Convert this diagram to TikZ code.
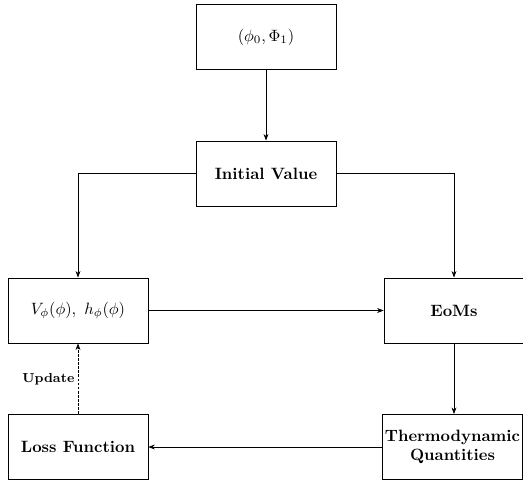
\documentclass[tikz,border=0pt]{standalone}
\usetikzlibrary{arrows.meta}
\begin{document}
\begin{tikzpicture}[x=0.6097pt,y=-0.6097pt,
  box/.style={draw,minimum width=3cm,minimum height=1.4cm,font=\bfseries,align=center},
  arr/.style={-{Stealth[length=4pt,width=3pt]}}]
\useasboundingbox (0,0) rectangle (523,484);
\node[box,font=\normalfont] (top) at (266,37) {$(\phi_0, \Phi_1)$};
\node[box] (init) at (266,173.5) {Initial Value};
\node[box,font=\normalfont] (V) at (78,310.5) {$V_\phi(\phi),\ h_\phi(\phi)$};
\node[box] (eom) at (454,310.5) {EoMs};
\node[box] (loss) at (78,447) {Loss Function};
\node[box,inner xsep=1pt] (thermo) at (452.5,447) {Thermodynamic\\Quantities};
\draw[arr] (top) -- (init);
\draw[arr] (init.west) -| (V.north);
\draw[arr] (init.east) -| (eom.north);
\draw[arr] (V) -- (eom);
\draw[arr] (eom.south) -- (eom.south |- thermo.north);
\draw[arr] (thermo.west |- loss.east) -- (loss.east);
\draw[arr,dash pattern=on 1.6pt off 0.9pt] (loss) -- node[left,font=\footnotesize\bfseries,inner sep=2pt] (upd) {Update} (V);
\end{tikzpicture}
\end{document}
